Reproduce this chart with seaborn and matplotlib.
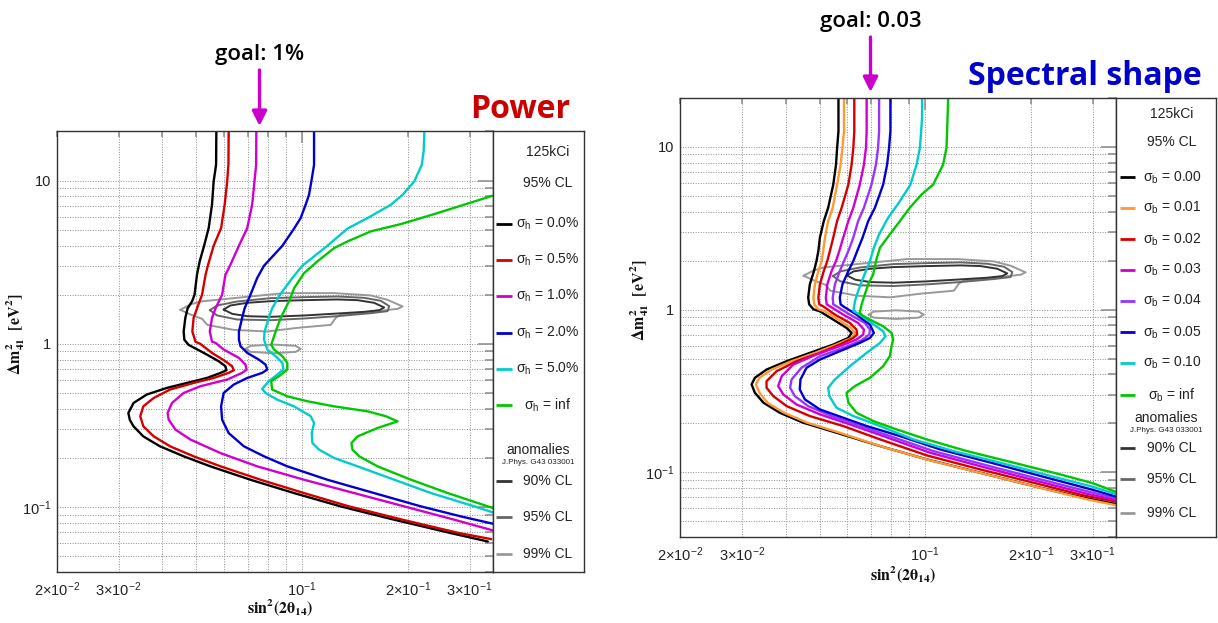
import matplotlib
matplotlib.use("Agg")
import matplotlib.pyplot as plt
import seaborn as sns
import pandas as pd

# ---------------- data ----------------
XLIM = (0.02, 0.35)
YLIM = (0.04, 20.0)

# Left panel: Power (sigma_h)
power_labels = [r"$\sigma_{h}$ = 0.0%", r"$\sigma_{h}$ = 0.5%", r"$\sigma_{h}$ = 1.0%",
                r"$\sigma_{h}$ = 2.0%", r"$\sigma_{h}$ = 5.0%", r"$\sigma_{h}$ = inf"]
power_colors = ["#000000", "#d40000", "#d000d0", "#0000d0", "#00cccc", "#00c800"]

h00_x = [0.0570, 0.0569, 0.0560, 0.0554, 0.0542, 0.0527, 0.0511, 0.0502, 0.0494, 0.0486, 0.0472, 0.0465, 0.0460,
         0.0462, 0.0475, 0.0525, 0.0579, 0.0605, 0.0609, 0.0586, 0.0536, 0.0470, 0.0412, 0.0361, 0.0331, 0.0320,
         0.0323, 0.0331, 0.0353, 0.0394, 0.0460, 0.0548, 0.0713, 0.0949, 0.1289, 0.1832, 0.2659, 0.3383]
h00_y = [20, 12.5, 9.9, 7.12, 5.12, 4.05, 3.2, 2.65, 2.0, 1.82, 1.65, 1.44, 1.19, 1.06, 0.986, 0.880, 0.782, 0.729,
         0.689, 0.664, 0.618, 0.576, 0.537, 0.489, 0.434, 0.377, 0.343, 0.3125, 0.271, 0.2355, 0.2046, 0.1776,
         0.147, 0.1218, 0.1009, 0.0836, 0.0692, 0.0615]
h05_x = [0.0618, 0.0617, 0.0612, 0.0602, 0.0588, 0.0560, 0.0539, 0.0531, 0.0519, 0.0502, 0.0491, 0.0487, 0.0497,
         0.0513, 0.0554, 0.0605, 0.0632, 0.0639, 0.0618, 0.0560, 0.0491, 0.0421, 0.0378, 0.0353, 0.0346, 0.0353,
         0.0378, 0.0421, 0.0491, 0.0586, 0.0762, 0.1013, 0.1362, 0.1935, 0.2809, 0.346]
h05_y = [20, 12.5, 9.9, 7.12, 5.12, 3.99, 3.01, 2.65, 2.0, 1.65, 1.44, 1.19, 1.03, 1.0, 0.880, 0.782, 0.729, 0.689,
         0.664, 0.618, 0.576, 0.525, 0.466, 0.414, 0.360, 0.3125, 0.271, 0.2355, 0.2046, 0.1776, 0.147, 0.1218,
         0.1009, 0.0836, 0.0692, 0.0636]
h10_x = [0.0741, 0.0740, 0.0732, 0.0721, 0.0698, 0.0661, 0.0625, 0.0605, 0.0592, 0.0567, 0.0554, 0.0546, 0.0554,
         0.0567, 0.0598, 0.0661, 0.0690, 0.0695, 0.0675, 0.0612, 0.0513, 0.0460, 0.0426, 0.0414, 0.0417, 0.0436,
         0.0481, 0.0586, 0.0745, 0.1013, 0.1408, 0.1956, 0.2717, 0.35]
h10_y = [20, 12.5, 9.9, 7.12, 5.12, 3.99, 3.05, 2.65, 2.0, 1.65, 1.44, 1.19, 1.03, 1.014, 0.923, 0.820, 0.746, 0.696,
         0.664, 0.604, 0.55, 0.5, 0.434, 0.377, 0.343, 0.298, 0.259, 0.214, 0.1776, 0.147, 0.1218, 0.1009, 0.0836,
         0.0719]
h20_x = [0.1082, 0.1082, 0.1064, 0.1047, 0.1024, 0.0991, 0.0949, 0.0879, 0.0779, 0.0745, 0.0713, 0.0686, 0.0675,
         0.0661, 0.0661, 0.0668, 0.0698, 0.0753, 0.0787, 0.0796, 0.0770, 0.0698, 0.0639, 0.0598, 0.0588, 0.0592,
         0.0618, 0.0683, 0.0779, 0.0908, 0.1181, 0.1605, 0.2183, 0.2839, 0.35]
h20_y = [20, 12.5, 10, 8.2, 7.12, 5.9, 5.08, 3.99, 3.01, 2.53, 2.0, 1.65, 1.44, 1.19, 1.06, 0.967, 0.880, 0.801,
         0.746, 0.696, 0.664, 0.618, 0.563, 0.5, 0.414, 0.343, 0.284, 0.2355, 0.2046, 0.1776, 0.147, 0.1218, 0.1009,
         0.0876, 0.079]
h50_x = [0.2231, 0.2221, 0.2193, 0.2089, 0.1935, 0.1792, 0.1537, 0.1347, 0.1181, 0.1002, 0.0938, 0.0865, 0.0822,
         0.0804, 0.0782, 0.0779, 0.0796, 0.0841, 0.0879, 0.0885, 0.0850, 0.0804, 0.0770, 0.0787, 0.0850, 0.0949,
         0.1059, 0.1082, 0.1066, 0.1070, 0.1118, 0.1234, 0.1439, 0.1832, 0.2331, 0.3099, 0.35]
h50_y = [20, 15.1, 12.5, 9.9, 8.2, 7.12, 5.9, 5.08, 3.99, 3.01, 2.53, 2.0, 1.65, 1.44, 1.19, 1.063, 0.923, 0.84,
         0.764, 0.696, 0.648, 0.590, 0.53, 0.5, 0.455, 0.414, 0.360, 0.327, 0.284, 0.247, 0.2247, 0.1998, 0.1776,
         0.147, 0.1218, 0.1009, 0.0927]
hinf_x = [0.352, 0.2383, 0.1914, 0.1571, 0.1347, 0.1234, 0.1106, 0.1013, 0.0949, 0.0918, 0.0869, 0.0841, 0.0817,
          0.0832, 0.0879, 0.0908, 0.0908, 0.0859, 0.0817, 0.0822, 0.0908, 0.1035, 0.1234, 0.1537, 0.1734, 0.1872,
          0.1641, 0.1439, 0.1383, 0.1392, 0.1455, 0.1641, 0.2044, 0.2602, 0.3169, 0.35]
hinf_y = [8.13, 6.24, 5.42, 4.89, 4.24, 3.86, 3.2, 2.71, 2.19, 1.82, 1.44, 1.19, 0.986, 0.923, 0.84, 0.764, 0.696,
          0.633, 0.590, 0.525, 0.477, 0.445, 0.414, 0.386, 0.360, 0.335, 0.305, 0.271, 0.247, 0.2247, 0.2046,
          0.1776, 0.147, 0.1218, 0.1058, 0.0986]

# Right panel: Spectral shape (sigma_b)
shape_labels = [r"$\sigma_{b}$ = 0.00", r"$\sigma_{b}$ = 0.01", r"$\sigma_{b}$ = 0.02", r"$\sigma_{b}$ = 0.03",
                r"$\sigma_{b}$ = 0.04", r"$\sigma_{b}$ = 0.05", r"$\sigma_{b}$ = 0.10", r"$\sigma_{b}$ = inf"]
shape_colors = ["#000000", "#ff9933", "#d40000", "#d000d0", "#9933ff", "#0000d0", "#00cccc", "#00c800"]

b000_x = [0.0566, 0.0566, 0.0561, 0.0557, 0.0547, 0.0529, 0.0514, 0.0501, 0.0496, 0.0490, 0.0482, 0.0469, 0.0464,
          0.0467, 0.0480, 0.0501, 0.0547, 0.0597, 0.0617, 0.0604, 0.0547, 0.0469, 0.0403, 0.0353, 0.0327, 0.0320,
          0.0327, 0.0346, 0.0385, 0.0449, 0.0559, 0.0743, 0.1009, 0.1431, 0.2030, 0.2819, 0.35]
b000_y = [20, 12.5, 9.86, 7.79, 5.87, 4.23, 3.5, 2.77, 2.29, 1.99, 1.727, 1.43, 1.185, 1.078, 1.005, 0.976, 0.868,
          0.772, 0.719, 0.670, 0.61, 0.542, 0.482, 0.428, 0.381, 0.347, 0.308, 0.2676, 0.2323, 0.2017, 0.175, 0.145,
          0.1202, 0.0995, 0.0824, 0.0699, 0.0638]
b001_x = [0.0587, 0.0587, 0.0581, 0.0574, 0.0561, 0.0545, 0.0529, 0.0518, 0.0512, 0.0507, 0.0496, 0.0485, 0.0480,
          0.0483, 0.0496, 0.0518, 0.0565, 0.0613, 0.0631, 0.0617, 0.0559, 0.0485, 0.0416, 0.0365, 0.0337, 0.0329,
          0.0337, 0.0355, 0.0396, 0.0461, 0.0571, 0.0759, 0.1031, 0.1463, 0.2076, 0.2881, 0.35]
b001_y = [20, 12.5, 9.86, 7.79, 5.87, 4.23, 3.5, 2.77, 2.29, 1.99, 1.727, 1.43, 1.185, 1.078, 1.005, 0.976, 0.868,
          0.772, 0.719, 0.670, 0.61, 0.542, 0.482, 0.428, 0.381, 0.347, 0.308, 0.2676, 0.2323, 0.2017, 0.175, 0.143,
          0.1185, 0.0981, 0.0813, 0.0683, 0.0627]
b002_x = [0.0628, 0.0628, 0.0624, 0.0617, 0.0604, 0.0578, 0.0561, 0.0547, 0.0535, 0.0526, 0.0514, 0.0501, 0.0496,
          0.0499, 0.0512, 0.0553, 0.0610, 0.0637, 0.0640, 0.0624, 0.0571, 0.0501, 0.0430, 0.0377, 0.0353, 0.0353,
          0.0369, 0.0403, 0.0469, 0.0584, 0.0743, 0.1009, 0.1431, 0.2030, 0.2819, 0.35]
b002_y = [20, 12.5, 9.86, 7.79, 5.87, 4.23, 3.5, 2.77, 2.29, 1.99, 1.727, 1.43, 1.185, 1.078, 1.048, 0.932, 0.828,
          0.754, 0.703, 0.670, 0.61, 0.542, 0.482, 0.418, 0.363, 0.331, 0.294, 0.255, 0.2216, 0.1924, 0.1594,
          0.1271, 0.1043, 0.0864, 0.0722, 0.066]
b003_x = [0.0681, 0.0681, 0.0678, 0.0669, 0.0651, 0.0624, 0.0604, 0.0584, 0.0569, 0.0557, 0.0541, 0.0526, 0.0521,
          0.0524, 0.0535, 0.0584, 0.0644, 0.0669, 0.0666, 0.0637, 0.0571, 0.0490, 0.0421, 0.0390, 0.0381, 0.0394,
          0.0430, 0.0501, 0.0610, 0.0759, 0.1031, 0.1463, 0.2076, 0.2881, 0.35]
b003_y = [20, 12.5, 9.86, 7.79, 5.87, 4.23, 3.5, 2.77, 2.29, 1.99, 1.727, 1.43, 1.185, 1.078, 1.048, 0.932, 0.828,
          0.754, 0.703, 0.655, 0.596, 0.530, 0.46, 0.39, 0.339, 0.301, 0.261, 0.227, 0.197, 0.167, 0.132, 0.1078,
          0.0885, 0.0739, 0.0676]
b004_x = [0.0739, 0.0739, 0.0734, 0.0724, 0.0703, 0.0669, 0.0644, 0.0624, 0.0604, 0.0587, 0.0571, 0.0553, 0.0545,
          0.0547, 0.0559, 0.0610, 0.0673, 0.0696, 0.0693, 0.0659, 0.0584, 0.0501, 0.0444, 0.0416, 0.0412, 0.0425,
          0.0464, 0.0541, 0.0651, 0.0793, 0.1054, 0.1495, 0.2122, 0.2944, 0.35]
b004_y = [20, 12.5, 9.86, 7.79, 5.87, 4.23, 3.5, 2.77, 2.29, 1.99, 1.727, 1.43, 1.185, 1.078, 1.048, 0.932, 0.828,
          0.754, 0.703, 0.648, 0.582, 0.517, 0.439, 0.372, 0.331, 0.294, 0.255, 0.2216, 0.1924, 0.167, 0.1351,
          0.1104, 0.0906, 0.0757, 0.0692]
b005_x = [0.0796, 0.0796, 0.0789, 0.0779, 0.0759, 0.0719, 0.0688, 0.0663, 0.0640, 0.0624, 0.0604, 0.0581, 0.0571,
          0.0574, 0.0584, 0.0637, 0.0696, 0.0714, 0.0696, 0.0651, 0.0571, 0.0501, 0.0459, 0.0441, 0.0439, 0.0454,
          0.0501, 0.0584, 0.0681, 0.0847, 0.1101, 0.1562, 0.2217, 0.3011, 0.35]
b005_y = [20, 12.5, 9.86, 7.79, 5.87, 4.23, 3.5, 2.77, 2.29, 1.99, 1.727, 1.43, 1.185, 1.078, 1.048, 0.932, 0.809,
          0.719, 0.670, 0.624, 0.555, 0.493, 0.439, 0.372, 0.323, 0.2805, 0.2434, 0.2164, 0.1924, 0.167, 0.1384,
          0.1136, 0.0928, 0.0779, 0.0709]
b010_x = [0.0980, 0.0980, 0.0974, 0.0966, 0.0945, 0.0908, 0.0847, 0.0784, 0.0739, 0.0714, 0.0696, 0.0666, 0.0644,
          0.0631, 0.0624, 0.0651, 0.0703, 0.0759, 0.0771, 0.0743, 0.0681, 0.0610, 0.0553, 0.0529, 0.0533, 0.0559,
          0.0624, 0.0743, 0.0924, 0.1202, 0.1705, 0.2316, 0.3011, 0.35]
b010_y = [20, 15.1, 12.5, 9.86, 7.79, 5.87, 4.64, 3.67, 2.9, 2.40, 1.99, 1.571, 1.302, 1.13, 0.981, 0.932, 0.828,
          0.736, 0.686, 0.624, 0.542, 0.449, 0.372, 0.331, 0.294, 0.2493, 0.2216, 0.1924, 0.1594, 0.1351, 0.1119,
          0.094, 0.0813, 0.0733]
binf_x = [0.1163, 0.1155, 0.1150, 0.1125, 0.1054, 0.0976, 0.0904, 0.0847, 0.0793, 0.0743, 0.0724, 0.0711, 0.0688,
          0.0673, 0.0659, 0.0651, 0.0663, 0.0696, 0.0759, 0.0802, 0.0811, 0.0802, 0.0793, 0.0759, 0.0696, 0.0631,
          0.0597, 0.0604, 0.0637, 0.0711, 0.0828, 0.1009, 0.1312, 0.1781, 0.2419, 0.3011, 0.35]
binf_y = [20, 12.5, 9.86, 7.79, 5.87, 5.1, 4.23, 3.5, 2.9, 2.40, 1.99, 1.648, 1.43, 1.242, 1.078, 0.959, 0.92, 0.868,
          0.79, 0.719, 0.655, 0.596, 0.517, 0.449, 0.381, 0.339, 0.308, 0.2676, 0.2323, 0.2065, 0.1836, 0.1594,
          0.1351, 0.1147, 0.0972, 0.0856, 0.0757]

# Anomaly allowed regions (J.Phys. G43 033001)
anomaly_labels = ["90% CL", "95% CL", "99% CL"]
anomaly_colors = ["#333333", "#666666", "#999999"]
cl90_x = [0.0598, 0.0625, 0.0698, 0.0813, 0.1013, 0.1262, 0.1439, 0.1605, 0.1714, 0.1660, 0.1504, 0.1262, 0.1013,
          0.0813, 0.0698, 0.0632, 0.0598]
cl90_y = [1.623, 1.718, 1.784, 1.826, 1.852, 1.870, 1.852, 1.784, 1.670, 1.608, 1.571, 1.534, 1.492, 1.464, 1.477,
          1.527, 1.623]
cl95_x = [0.0546, 0.0573, 0.0653, 0.0813, 0.1013, 0.1262, 0.1504, 0.1678, 0.1772, 0.1752, 0.1571, 0.1262, 0.1013,
          0.0813, 0.0653, 0.0573, 0.0546]
cl95_y = [1.608, 1.718, 1.817, 1.905, 1.932, 1.951, 1.914, 1.835, 1.702, 1.586, 1.542, 1.478, 1.43, 1.396, 1.41,
          1.492, 1.608]
cl99_x = [0.0450, 0.0481, 0.0513, 0.0639, 0.0888, 0.1234, 0.1571, 0.1752, 0.1935, 0.1872, 0.1641, 0.1289, 0.1248,
          0.1207, 0.0970, 0.0796, 0.0639, 0.0537, 0.0519, 0.0481, 0.0450]
cl99_y = [1.616, 1.742, 1.817, 1.905, 2.045, 2.045, 1.979, 1.861, 1.694, 1.639, 1.586, 1.513, 1.443, 1.307, 1.253,
          1.19, 1.218, 1.307, 1.423, 1.513, 1.616]
island99_x = [0.0690, 0.0713, 0.0828, 0.0959, 0.0991, 0.0959, 0.0828, 0.0713, 0.0690]
island99_y = [0.931, 0.972, 0.990, 0.972, 0.931, 0.893, 0.876, 0.893, 0.931]

x_major = [0.1]
x_major_labels = [r"$10^{-1}$"]
x_minor = [0.02, 0.03, 0.04, 0.05, 0.06, 0.07, 0.08, 0.09, 0.2, 0.3]
x_minor_labels = [r"$2{\times}10^{-2}$", r"$3{\times}10^{-2}$", "", "", "", "", "", "", r"$2{\times}10^{-1}$",
                  r"$3{\times}10^{-1}$"]
y_major = [0.1, 1, 10]
y_major_labels = [r"$10^{-1}$", "1", "10"]
y_minor = [0.04, 0.05, 0.06, 0.07, 0.08, 0.09, 0.2, 0.3, 0.4, 0.5, 0.6, 0.7, 0.8, 0.9,
           2, 3, 4, 5, 6, 7, 8, 9, 20]

# ---------------- style ----------------
sns.set_style("white")
plt.rcParams["font.family"] = ["Liberation Sans", "DejaVu Sans"]
plt.rcParams["mathtext.fontset"] = "custom"
plt.rcParams["mathtext.rm"] = "Liberation Sans"
plt.rcParams["mathtext.it"] = "Liberation Sans:italic"
plt.rcParams["mathtext.bf"] = "Liberation Sans:bold"
plt.rcParams["mathtext.default"] = "regular"

fig = plt.figure(figsize=(12.18, 6.23), dpi=100)
W, H = 1218.0, 623.0


def rect(x0, y0, x1, y1):
    return [x0 / W, 1 - y1 / H, (x1 - x0) / W, (y1 - y0) / H]


def draw_panel(ax, curves_x, curves_y, colors, ylab_x, xlab_y):
    ax.set_xscale("log")
    ax.set_yscale("log")
    for cx, cy, col in zip([cl99_x, island99_x, cl95_x, cl90_x],
                           [cl99_y, island99_y, cl95_y, cl90_y],
                           [anomaly_colors[2], anomaly_colors[2], anomaly_colors[1], anomaly_colors[0]]):
        sns.lineplot(data=pd.DataFrame({"x": cx, "y": cy}), x="x", y="y", sort=False, estimator=None,
                     color=col, lw=1.4, ax=ax, legend=False)
    for cx, cy, col in zip(curves_x, curves_y, colors):
        sns.lineplot(data=pd.DataFrame({"x": cx, "y": cy}), x="x", y="y", sort=False, estimator=None,
                     color=col, lw=1.7, ax=ax, legend=False)
    ax.set_xlim(*XLIM)
    ax.set_ylim(*YLIM)
    ax.set_xticks(x_major, labels=x_major_labels)
    ax.set_xticks(x_minor, labels=x_minor_labels, minor=True)
    ax.set_yticks(y_major, labels=y_major_labels)
    ax.set_yticks(y_minor, labels=[""] * len(y_minor), minor=True)
    ax.grid(True, which="both", color="#8c8c8c", lw=0.7, ls=(0, (1, 1.6)))
    ax.tick_params(axis="both", which="both", direction="in", top=True, right=True,
                   color="#8a8a8a", width=1.1, labelsize=10.5, labelcolor="#222222")
    ax.tick_params(axis="x", which="major", length=8.5, pad=6)
    ax.tick_params(axis="x", which="minor", length=4, pad=6)
    ax.tick_params(axis="y", which="major", length=11, pad=4)
    ax.tick_params(axis="y", which="minor", length=5.5, pad=4)
    for s in ax.spines.values():
        s.set_color("#333333")
        s.set_linewidth(1.0)
    ax.set_xlabel(r"$\mathbf{sin^{2}(2\theta_{14})}$", fontsize=11.5, math_fontfamily="stix", color="#111111")
    ax.set_ylabel(r"$\mathbf{\Delta m^{2}_{41}\ \ [eV^{2}]}$", fontsize=11.5, math_fontfamily="stix",
                  color="#111111")
    ax.xaxis.set_label_coords(0.513, xlab_y)
    ax.yaxis.set_label_coords(ylab_x, 0.54)


def draw_legend(lax, head_y, rows_y, labels, colors, anom_y, anom_head_y, jphys_y, tx, lx0, lx1):
    lax.set_xlim(0, 1)
    lax.set_ylim(0, 1)
    lax.set_xticks([])
    lax.set_yticks([])
    for s in lax.spines.values():
        s.set_color("#333333")
        s.set_linewidth(1.0)
    lax.text(tx, head_y[0], "125kCi", ha="center", va="center", fontsize=10, color="#222222")
    lax.text(tx, head_y[1], "95% CL", ha="center", va="center", fontsize=10, color="#222222")
    for y, lab, col in zip(rows_y, labels, colors):
        lax.plot([lx0, lx1], [y, y], color=col, lw=2.0, solid_capstyle="butt")
        lax.text(tx, y, lab, ha="center", va="center", fontsize=10, color="#222222")
    lax.text(0.5, anom_head_y, "anomalies", ha="center", va="center", fontsize=10, color="#222222")
    lax.text(0.5, jphys_y, "J.Phys. G43 033001", ha="center", va="center", fontsize=5.8, color="#222222")
    for y, lab, col in zip(anom_y, anomaly_labels, anomaly_colors):
        lax.plot([lx0, lx1], [y, y], color=col, lw=2.0, solid_capstyle="butt")
        lax.text(tx, y, lab, ha="center", va="center", fontsize=10, color="#222222")


# Left panel
axL = fig.add_axes(rect(56.7, 131.5, 493, 572))
draw_panel(axL, [h00_x, h05_x, h10_x, h20_x, h50_x, hinf_x],
           [h00_y, h05_y, h10_y, h20_y, h50_y, hinf_y], power_colors, -0.068, -0.058)
legL = fig.add_axes(rect(493, 131.5, 584, 572))
draw_legend(legL, [0.954, 0.884], [0.790, 0.708, 0.627, 0.543, 0.461, 0.379], power_labels, power_colors,
            [0.207, 0.125, 0.041], 0.277, 0.248, 0.60, 0.035, 0.205)

# Right panel
axR = fig.add_axes(rect(680, 98, 1116, 537))
draw_panel(axR, [b000_x, b001_x, b002_x, b003_x, b004_x, b005_x, b010_x, binf_x],
           [b000_y, b001_y, b002_y, b003_y, b004_y, b005_y, b010_y, binf_y], shape_colors, -0.066, -0.062)
legR = fig.add_axes(rect(1116, 98, 1216, 537))
draw_legend(legR, [0.964, 0.900], [0.819, 0.749, 0.678, 0.608, 0.538, 0.466, 0.396, 0.323], shape_labels,
            shape_colors, [0.202, 0.131, 0.054], 0.270, 0.242, 0.56, 0.04, 0.19)

# Titles and goal annotations
title_font = ["Open Sans", "DejaVu Sans"]
fig.text(520 / W, 1 - 118 / H, "Power", color="#cc0000", fontsize=23, fontweight="bold",
         family=title_font, ha="center", va="baseline")
fig.text(1085 / W, 1 - 85 / H, "Spectral shape", color="#0000cc", fontsize=23, fontweight="bold",
         family=title_font, ha="center", va="baseline")
fig.text(259.5 / W, 1 - 60 / H, "goal: 1%", color="black", fontsize=16, fontweight="semibold",
         family=title_font, ha="center", va="baseline")
fig.text(870.5 / W, 1 - 26.7 / H, "goal: 0.03", color="black", fontsize=16, fontweight="semibold",
         family=title_font, ha="center", va="baseline")
arrow = dict(arrowstyle="-|>", color="#cc00cc", lw=2.4, mutation_scale=22, shrinkA=0, shrinkB=0)
fig.add_artist(matplotlib.patches.FancyArrowPatch((259.5 / W, 1 - 70 / H), (259.5 / W, 1 - 126 / H),
                                                  transform=fig.transFigure, **arrow))
fig.add_artist(matplotlib.patches.FancyArrowPatch((870.5 / W, 1 - 37 / H), (870.5 / W, 1 - 92 / H),
                                                  transform=fig.transFigure, **arrow))

fig.savefig("out.png", dpi=100, facecolor="white")
